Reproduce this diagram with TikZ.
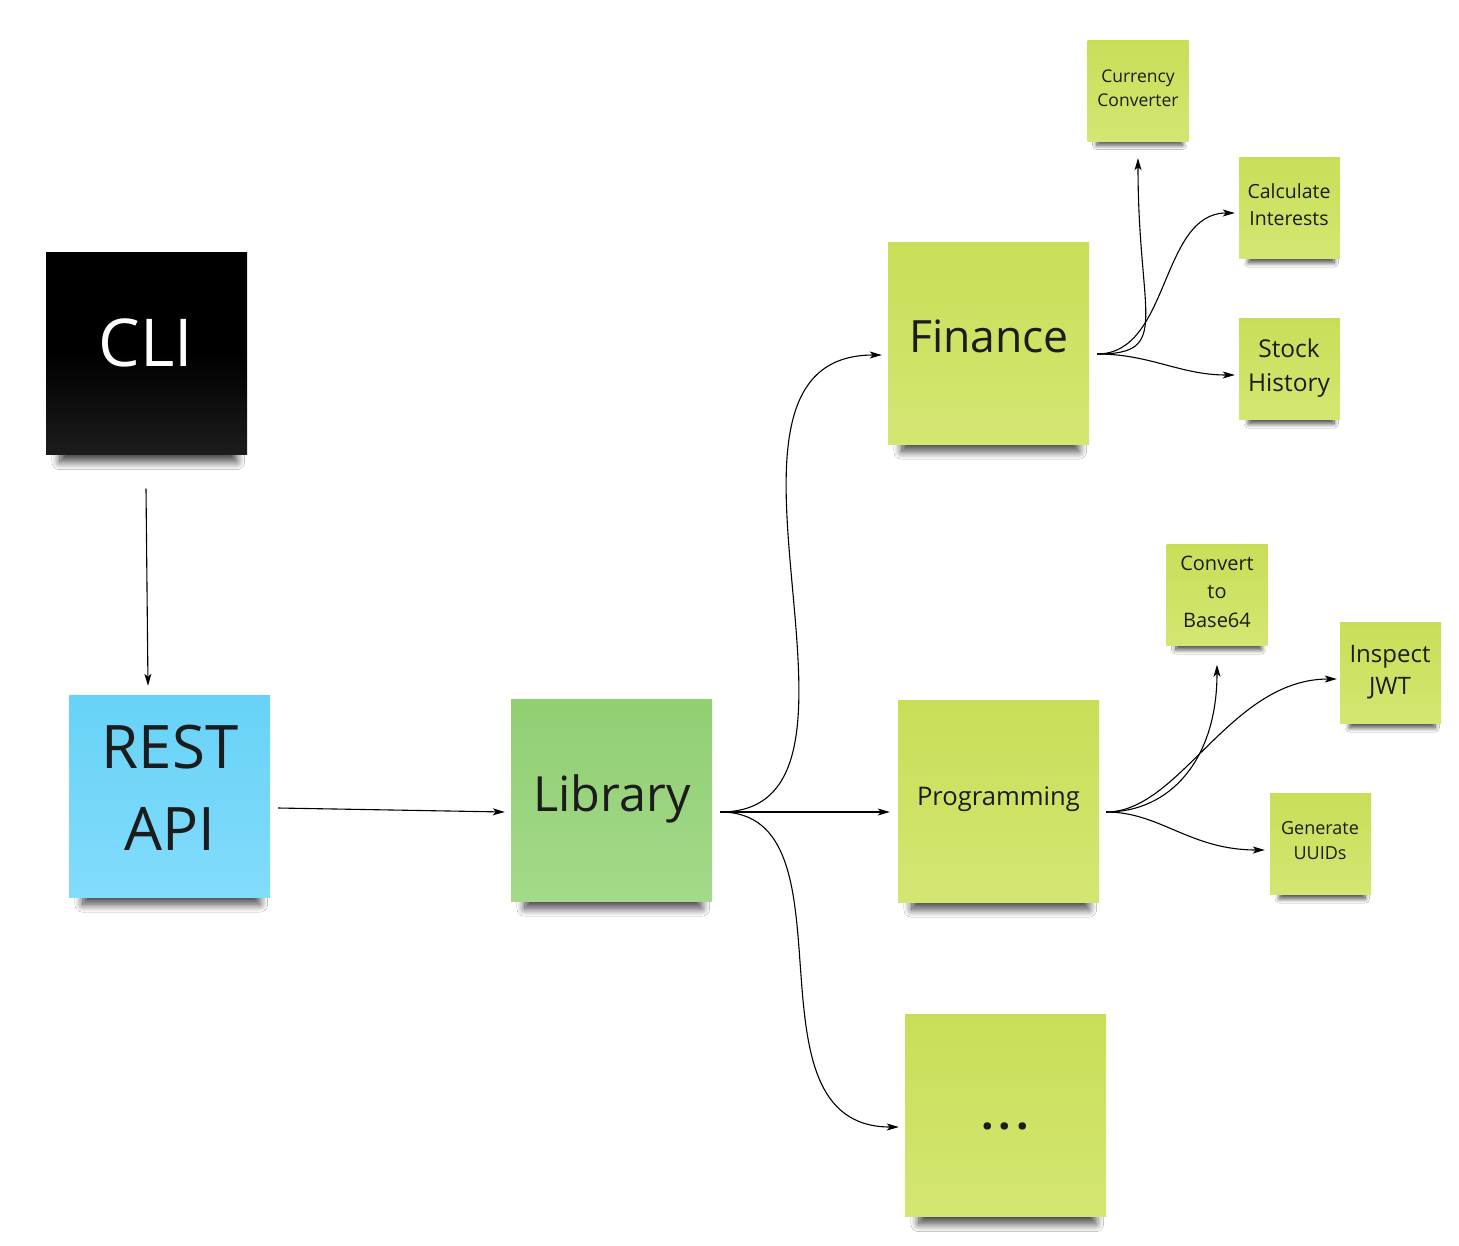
\documentclass[tikz,border=0pt]{standalone}
\usepackage{fontspec}
\setmainfont{Open Sans}
\usetikzlibrary{arrows.meta,calc,shadows.blur}
\definecolor{limeTop}{HTML}{C9DE58}
\definecolor{limeBot}{HTML}{D4E672}
\definecolor{libTop}{HTML}{90CF72}
\definecolor{libBot}{HTML}{A4D98A}
\definecolor{restTop}{HTML}{67D2F7}
\definecolor{restBot}{HTML}{82DCFC}
\definecolor{cliBot}{HTML}{1C1C1C}
\definecolor{ink}{HTML}{1C1C1C}
\begin{document}
\begin{tikzpicture}[x=1pt,y=-1pt,
  note/.style={rectangle, inner sep=0pt, draw=none},
  bignote/.style={note, minimum width=201pt, minimum height=202pt,
    blur shadow={shadow xshift=2pt, shadow yshift=-22pt, shadow scale=0.88, shadow blur radius=9pt, shadow blur steps=14, shadow opacity=75}},
  smallnote/.style={note, minimum width=101pt, minimum height=101pt,
    blur shadow={shadow xshift=2pt, shadow yshift=-14pt, shadow scale=0.85, shadow blur radius=5pt, shadow blur steps=10, shadow opacity=70}},
  lime/.style={top color=limeTop, bottom color=limeBot},
  notetext/.style={text=ink, align=center, inner sep=0pt, text depth=0pt},
  conn/.style={draw=black, line width=1.1pt, -{Stealth[length=12pt,width=7pt,inset=3pt]}},
]
\useasboundingbox[fill=white] (0,0) rectangle (1459,1245);

% notes
\node[bignote, top color=black, bottom color=cliBot, middle color=black] (cli) at (146.5,353.5) {};
\node[bignote, top color=restTop, bottom color=restBot] (rest) at (169.5,796) {};
\node[bignote, top color=libTop, bottom color=libBot] (lib) at (611.5,800) {};
\node[bignote, lime] (fin) at (988.5,343) {};
\node[bignote, lime] (prog) at (998.5,801) {};
\node[bignote, lime] (more) at (1005.5,1115.5) {};
\node[smallnote, lime] (cur) at (1138,90.5) {};
\node[smallnote, lime] (calc) at (1289.5,208) {};
\node[smallnote, lime] (stock) at (1289.5,369) {};
\node[smallnote, lime] (conv) at (1217,595) {};
\node[smallnote, lime] (jwt) at (1390.5,673) {};
\node[smallnote, lime] (uuid) at (1320.5,844) {};

% texts
\node[notetext, text=white, font=\fontsize{66}{80}\selectfont] (clit) at (146,343) {CLI};
\node[notetext, font=\fontsize{60}{82}\selectfont] (restt) at (170,787.5) {REST\\API};
\node[notetext, font=\fontsize{48.5}{58}\selectfont] (libt) at (612,793.5) {Library};
\node[notetext, font=\fontsize{44.5}{54}\selectfont] (fint) at (989,336) {Finance};
\node[notetext, font=\fontsize{25.6}{32}\selectfont] (progt) at (998.5,796) {Programming};
\node[notetext, font=\bfseries\fontsize{44}{50}\selectfont] (moret) at (1005,1126) {.\kern5pt.\kern5pt.};
\node[notetext, font=\fontsize{17.5}{24}\selectfont] (curt) at (1138,88) {Currency\\Converter};
\node[notetext, font=\fontsize{19.5}{27}\selectfont] (calct) at (1289,204.5) {Calculate\\Interests};
\node[notetext, font=\fontsize{24.5}{34}\selectfont] (stockt) at (1289,365) {Stock\\History};
\node[notetext, font=\fontsize{20}{28.5}\selectfont] (convt) at (1217,591.5) {Convert\\to\\Base64};
\node[notetext, font=\fontsize{24}{32}\selectfont] (jwtt) at (1390,669.5) {Inspect\\JWT};
\node[notetext, font=\fontsize{18}{25}\selectfont] (uuidt) at (1320,840) {Generate\\UUIDs};

% connectors
\draw[conn] ($(cli.south)+(-0.5,34)$) -- ($(rest.north)+(-21.5,-9)$);
\draw[conn] ($(rest.east)+(8,12)$) -- ($(lib.west)+(-6,12)$);
\draw[conn] ($(lib.east)+(8,12)$) .. controls +(188,0) and +(-209,0) .. ($(fin.west)+(-6,12)$);
\draw[conn] ($(lib.east)+(8,12)$) -- ($(prog.west)+(-8,11)$);
\draw[conn] ($(lib.east)+(8,12)$) .. controls +(141,0) and +(-162,0) .. ($(more.west)+(-6,11.5)$);

\draw[conn] ($(fin.east)+(8,11)$) .. controls +(75,0) and +(0,160) .. ($(cur.south)+(0,17)$);
\draw[conn] ($(fin.east)+(8,11)$) .. controls +(73,0) and +(-75,0) .. ($(calc.west)+(-4,5)$);
\draw[conn] ($(fin.east)+(8,11)$) .. controls +(53,0) and +(-55,0) .. ($(stock.west)+(-4,6)$);

\draw[conn] ($(prog.east)+(7,11)$) .. controls +(64,0) and +(0,95) .. ($(conv.south)+(0,19)$);
\draw[conn] ($(prog.east)+(7,11)$) .. controls +(74,0) and +(-107,0) .. ($(jwt.west)+(-3,6)$);
\draw[conn] ($(prog.east)+(7,11)$) .. controls +(54,0) and +(-75,0) .. ($(uuid.west)+(-5,6)$);
\end{tikzpicture}
\end{document}
